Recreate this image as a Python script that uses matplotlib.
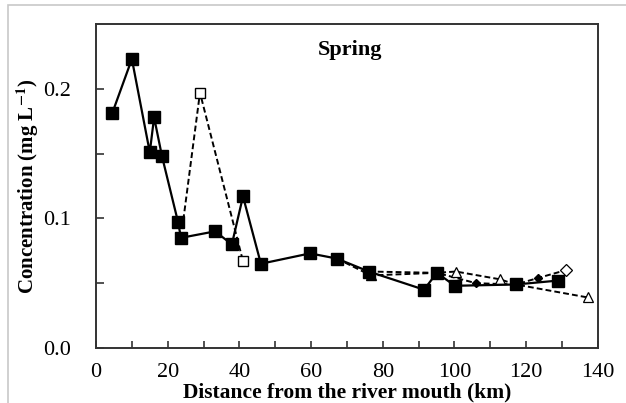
import matplotlib
matplotlib.use('Agg')
import matplotlib.pyplot as plt
from matplotlib.patches import Rectangle

plt.rcParams['font.family'] = ['Liberation Serif', 'DejaVu Serif']
plt.rcParams['mathtext.fontset'] = 'stix'

# main survey (solid line, filled squares)
main_km = [4.5, 10.0, 15.0, 16.2, 18.4, 22.9, 23.7, 33.2, 37.9, 41.0, 46.0,
           59.7, 67.2, 76.1, 91.5, 95.1, 100.1, 117.1, 128.8]
main_conc = [0.181, 0.223, 0.151, 0.178, 0.148, 0.097, 0.085, 0.090, 0.080,
             0.117, 0.065, 0.073, 0.069, 0.059, 0.045, 0.058, 0.048, 0.049, 0.052]

# branch with open squares (dashed)
sq_km = [23.7, 29.0, 41.0]
sq_conc = [0.085, 0.197, 0.067]

# branch with triangles (dashed)
tri_km = [67.2, 76.7, 95.1, 100.4, 112.7, 117.1, 137.2]
tri_conc = [0.069, 0.056, 0.058, 0.059, 0.053, 0.049, 0.039]

# branch with diamonds (dashed)
dia_km = [76.1, 95.1, 106.0, 117.1, 123.3, 131.0]
dia_conc = [0.059, 0.058, 0.050, 0.049, 0.054, 0.060]

fig = plt.figure(figsize=(6.26, 4.03), dpi=100)
ax = fig.add_axes([0.1534, 0.1365, 0.8016, 0.8039])

# light frame around the whole picture
fig.patches.append(Rectangle((0.013, -0.05), 1.1, 1.038, transform=fig.transFigure,
                             fill=False, edgecolor='#c8c8c8', linewidth=1.2))

dash = (0, (3, 1.6))
ax.plot(sq_km, sq_conc, color='black', lw=1.4, linestyle=dash, zorder=2)
ax.plot(sq_km[1:], sq_conc[1:], 's', ms=7, mfc='white', mec='black', mew=1.0, zorder=3)

ax.plot(tri_km, tri_conc, color='black', lw=1.4, linestyle=dash, zorder=2)
ax.plot(tri_km[1:2], tri_conc[1:2], '^', ms=7, mfc='black', mec='black', zorder=3)
ax.plot(tri_km[3:5] + tri_km[6:], tri_conc[3:5] + tri_conc[6:], '^', ms=7,
        mfc='white', mec='black', mew=0.9, zorder=3)

ax.plot(dia_km, dia_conc, color='black', lw=1.4, linestyle=dash, zorder=2)
ax.plot([dia_km[2], dia_km[4]], [dia_conc[2], dia_conc[4]], 'D', ms=4,
        mfc='black', mec='black', zorder=3)
ax.plot(dia_km[-1:], dia_conc[-1:], 'D', ms=6, mfc='white', mec='black', mew=0.9, zorder=3)

ax.plot(main_km, main_conc, color='black', lw=1.6, marker='s', ms=8,
        mfc='black', mec='black', zorder=4)

ax.set_xlim(0, 140)
ax.set_ylim(0, 0.25)
ax.set_xticks(range(0, 141, 20))
ax.set_xticks(range(0, 141, 10), minor=True)
ax.set_yticks([0.0, 0.1, 0.2])
ax.set_yticks([0.05, 0.15], minor=True)
ax.set_yticklabels(['0.0', '0.1', '0.2'])
ax.tick_params(axis='both', which='both', direction='in', labelsize=16, color='#333333')
ax.tick_params(axis='x', which='major', length=5, width=1.2, pad=11)
ax.tick_params(axis='x', which='minor', length=5, width=1.2)
ax.tick_params(axis='y', which='major', length=6, width=1.2, pad=18)
ax.tick_params(axis='y', which='minor', length=6, width=1.2)
for sp in ax.spines.values():
    sp.set_linewidth(1.4)
    sp.set_color('#333333')

ax.text(71, 0.23, 'Spring', fontsize=16, fontweight='bold', ha='center', va='center')

ax.set_xlabel('Distance from the river mouth (km)', fontsize=15.5, fontweight='bold', va='center')
ax.xaxis.set_label_coords(0.5, -0.137)
ax.set_ylabel(r'Concentration (mg L$^{\mathbf{-1}}$)', fontsize=15, fontweight='bold', va='center')
ax.yaxis.set_label_coords(-0.135, 0.5)

fig.savefig('out.png', dpi=100)
